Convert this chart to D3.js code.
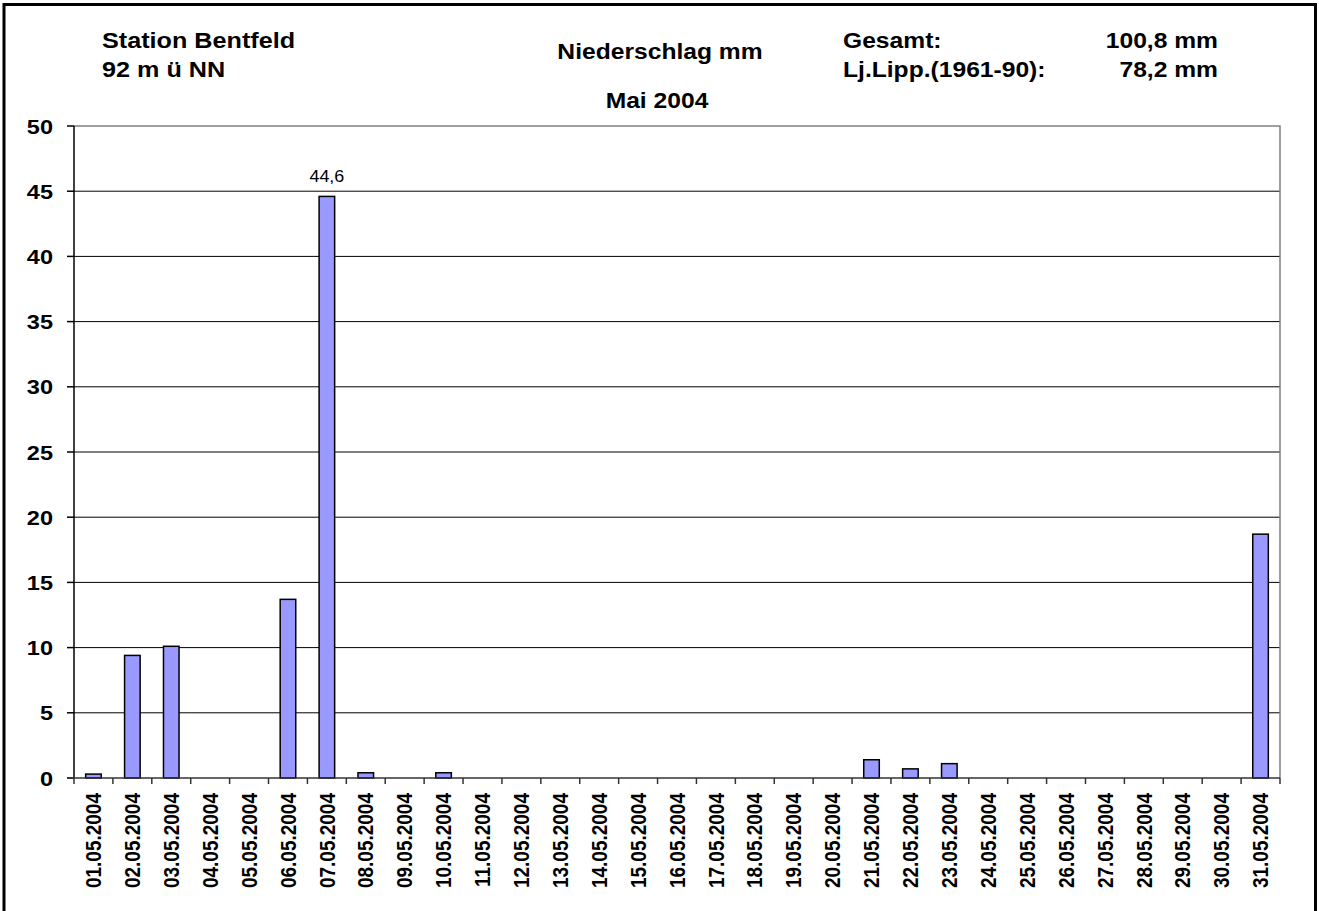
<!DOCTYPE html>
<html>
<head>
<meta charset="utf-8">
<script src="https://cdn.jsdelivr.net/npm/d3@7"></script>
<style>
  body { margin: 0; background: #fff; }
  text { font-family: "Liberation Sans", Arial, sans-serif; fill: #000; }
</style>
</head>
<body>
<div id="chart"></div>
<script>
// Niederschlag Mai 2004, Station Bentfeld
var days = ["01.05.2004", "02.05.2004", "03.05.2004", "04.05.2004", "05.05.2004",
  "06.05.2004", "07.05.2004", "08.05.2004", "09.05.2004", "10.05.2004",
  "11.05.2004", "12.05.2004", "13.05.2004", "14.05.2004", "15.05.2004",
  "16.05.2004", "17.05.2004", "18.05.2004", "19.05.2004", "20.05.2004",
  "21.05.2004", "22.05.2004", "23.05.2004", "24.05.2004", "25.05.2004",
  "26.05.2004", "27.05.2004", "28.05.2004", "29.05.2004", "30.05.2004",
  "31.05.2004"];
var rain = [0.3, 9.4, 10.1, 0, 0, 13.7, 44.6, 0.4, 0, 0.4,
  0, 0, 0, 0, 0, 0, 0, 0, 0, 0,
  1.4, 0.7, 1.1, 0, 0, 0, 0, 0, 0, 0,
  18.7];
var yTicks = [0, 5, 10, 15, 20, 25, 30, 35, 40, 45, 50];
var labelled = ["07.05.2004"];

var svgWidth = 1319;
var svgHeight = 911;
var plot = { left: 74, right: 1280, top: 126, bottom: 778 };
var stretch = 1.12; // the original text is a bit wider than tall

var svg = d3.select("#chart")
  .append("svg")
  .attr("width", svgWidth)
  .attr("height", svgHeight);

// outer frame (open at the bottom)
svg.append("path")
  .attr("d", `M4,${svgHeight} V4.5 H1315.5 V${svgHeight}`)
  .attr("fill", "none")
  .attr("stroke", "#000")
  .attr("stroke-width", 3);

var x = d3.scaleBand()
  .domain(days)
  .range([plot.left, plot.right]);

var y = d3.scaleLinear()
  .domain([0, 50])
  .range([plot.bottom, plot.top]);

function addText(px, py, str, opts) {
  opts = opts || {};
  var t = svg.append("text")
    .attr("transform", `translate(${px},${py}) scale(${stretch},1)` + (opts.rotate ? " rotate(-90)" : ""))
    .attr("text-anchor", opts.anchor || "start")
    .attr("font-size", opts.size || 22)
    .attr("font-weight", opts.weight || "bold")
    .text(str);
  if (opts.dy) t.attr("dy", opts.dy);
  return t;
}

// header texts
addText(102, 48, "Station Bentfeld", { size: 22.5 });
addText(102, 77, "92 m ü NN", { size: 22.5 });
addText(660, 59, "Niederschlag mm", { anchor: "middle" });
addText(657, 108, "Mai 2004", { anchor: "middle" });
addText(843, 48, "Gesamt:");
addText(843, 77, "Lj.Lipp.(1961-90):");
addText(1218, 48, "100,8 mm", { anchor: "end" });
addText(1218, 77, "78,2 mm", { anchor: "end" });

// gridlines
svg.append("g")
  .selectAll("line")
  .data(yTicks.filter(d => d > 0 && d < 50))
  .enter()
  .append("line")
  .attr("x1", plot.left)
  .attr("x2", plot.right)
  .attr("y1", d => y(d))
  .attr("y2", d => y(d))
  .attr("stroke", "#000")
  .attr("stroke-width", 1);

// plot area border, top and right
svg.append("path")
  .attr("d", `M${plot.left},${y(50)} H${plot.right} V${plot.bottom}`)
  .attr("fill", "none")
  .attr("stroke", "#808080")
  .attr("stroke-width", 1.5);

// bars
var barW = x.bandwidth() * 0.4;
svg.append("g")
  .selectAll("rect")
  .data(days.map((d, i) => ({ day: d, value: rain[i] })).filter(d => d.value > 0))
  .enter()
  .append("rect")
  .attr("x", d => x(d.day) + (x.bandwidth() - barW) / 2)
  .attr("y", d => y(d.value))
  .attr("width", barW)
  .attr("height", d => y(0) - y(d.value))
  .attr("fill", "#9999FF")
  .attr("stroke", "#000")
  .attr("stroke-width", 1.5);

// data label
days.forEach(function(d, i) {
  if (labelled.indexOf(d) >= 0) {
    addText(x(d) + x.bandwidth() / 2, y(rain[i]) - 14,
      String(rain[i]).replace(".", ","), { anchor: "middle", size: 16, weight: "normal" });
  }
});

// y axis
svg.append("line")
  .attr("x1", plot.left).attr("x2", plot.left)
  .attr("y1", plot.top).attr("y2", plot.bottom)
  .attr("stroke", "#000").attr("stroke-width", 1.5);

svg.append("g")
  .selectAll("line")
  .data(yTicks)
  .enter()
  .append("line")
  .attr("x1", plot.left - 7)
  .attr("x2", plot.left)
  .attr("y1", d => y(d))
  .attr("y2", d => y(d))
  .attr("stroke", "#000")
  .attr("stroke-width", 1.5);

yTicks.forEach(function(d) {
  addText(53, y(d), String(d), { anchor: "end", size: 21, dy: "0.36em" });
});

// x axis
svg.append("line")
  .attr("x1", plot.left - 7).attr("x2", plot.right)
  .attr("y1", plot.bottom).attr("y2", plot.bottom)
  .attr("stroke", "#333").attr("stroke-width", 1.5);

svg.append("g")
  .selectAll("line")
  .data(days.map(d => x(d)).concat([plot.right]))
  .enter()
  .append("line")
  .attr("x1", d => d)
  .attr("x2", d => d)
  .attr("y1", plot.bottom)
  .attr("y2", plot.bottom + 6)
  .attr("stroke", "#333")
  .attr("stroke-width", 1.5);

days.forEach(function(d) {
  addText(x(d) + x.bandwidth() / 2, 793, d, { anchor: "end", size: 19, rotate: true, dy: "0.36em" });
});
</script>
</body>
</html>
